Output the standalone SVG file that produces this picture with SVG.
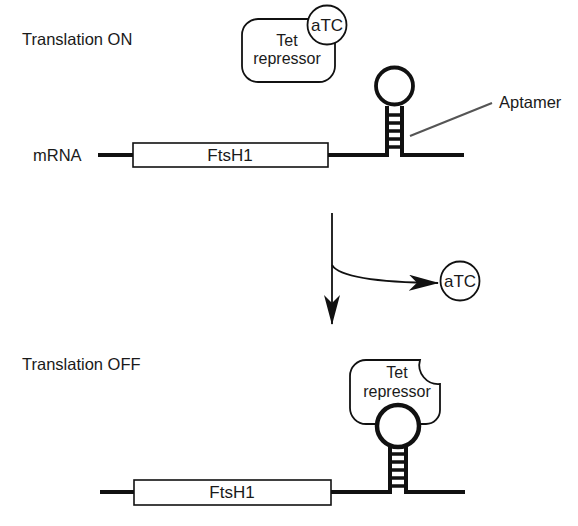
<svg xmlns="http://www.w3.org/2000/svg" width="578" height="526" viewBox="0 0 578 526">
<style>
text{font-family:"Liberation Sans",Arial,sans-serif;fill:#1a1a1a}
.lbl{font-size:16.5px}
.node{font-size:16px;text-anchor:middle}
.gene{font-size:17px;text-anchor:middle}
.atc{font-size:17px;text-anchor:middle}
.rna{fill:none;stroke:#111;stroke-width:4}
.rung{stroke:#111;stroke-width:3.5}
.box{fill:#fff;stroke:#111;stroke-width:1.6}
.shape{fill:#fff;stroke:#111;stroke-width:1.8}
</style>
<defs>
<marker id="ahv" markerWidth="30" markerHeight="16" refX="29" refY="8" orient="auto" markerUnits="userSpaceOnUse">
<path d="M0,0 L30,8 L0,16 L8,8 Z" fill="#111"/>
</marker>
</defs>

<text class="lbl" x="22" y="45">Translation ON</text>
<text class="lbl" x="22" y="370">Translation OFF</text>

<g id="mrna-top">
<text class="lbl" x="33" y="161">mRNA</text>
<path class="rna" d="M98,155 H135 M327,155 H387 V106 M402,106 V155 H464"/>
<circle cx="394.5" cy="86" r="18.5" fill="none" stroke="#111" stroke-width="3.8"/>
<path class="rung" d="M387,115 H402 M387,123 H402 M387,131 H402 M387,139 H402 M387,147 H402"/>
<rect class="box" x="133" y="143" width="195" height="24"/>
<text class="gene" x="230" y="161">FtsH1</text>
</g>

<g id="aptamer">
<line x1="410" y1="136" x2="492" y2="103" stroke="#555" stroke-width="2"/>
<text class="lbl" x="499" y="108">Aptamer</text>
</g>

<g id="tet-top">
<rect class="shape" x="242" y="19" width="93" height="63" rx="16"/>
<text class="node" x="287" y="46">Tet</text>
<text class="node" x="287" y="64">repressor</text>
</g>
<g id="atc-top">
<circle class="shape" cx="327" cy="25" r="19.5"/>
<text class="atc" x="327" y="31">aTC</text>
</g>

<g id="connectors">
<line x1="332" y1="213" x2="332" y2="324" stroke="#111" stroke-width="1.8" marker-end="url(#ahv)"/>
<path d="M332,265 Q342,282 438,283" fill="none" stroke="#111" stroke-width="1.8" marker-end="url(#ahv)"/>
</g>

<g id="atc-free">
<circle class="shape" cx="460" cy="281" r="19.5"/>
<text class="atc" x="460" y="287">aTC</text>
</g>

<g id="tet-bottom">
<path class="shape" d="M366,360 H420 A19,19 0 0 0 440,384 V410 A14,14 0 0 1 426,424 H366 A16,16 0 0 1 350,408 V376 A16,16 0 0 1 366,360 Z"/>
<text class="node" x="397" y="378">Tet</text>
<text class="node" x="397" y="397">repressor</text>
</g>

<g id="mrna-bottom">
<path class="rna" d="M100,492 H135 M330,492 H390 V446 M406,446 V492 H465"/>
<circle cx="398" cy="426" r="21" fill="#fff" stroke="#111" stroke-width="4.5"/>
<path class="rung" d="M390,454 H406 M390,462 H406 M390,470 H406 M390,478 H406 M390,486 H406"/>
<rect class="box" x="134" y="480" width="197" height="25"/>
<text class="gene" x="232" y="498">FtsH1</text>
</g>
</svg>
